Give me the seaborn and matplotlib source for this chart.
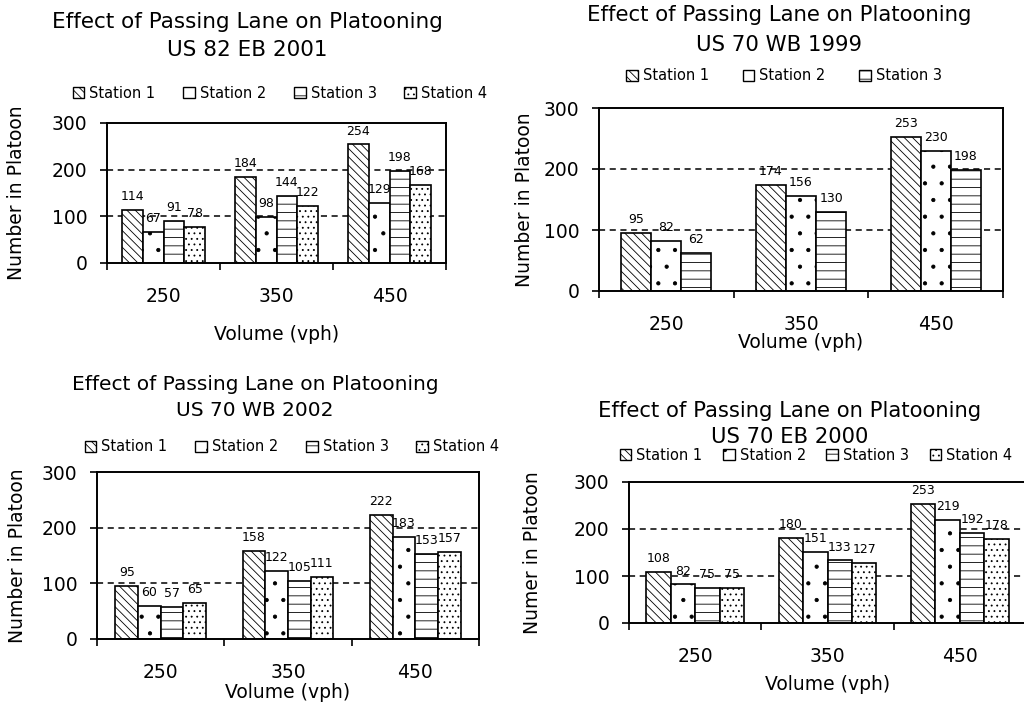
import matplotlib
matplotlib.use("Agg")
import matplotlib.pyplot as plt
from matplotlib.patches import Patch
import seaborn as sns
import pandas as pd

W, H = 1024, 704

volumes = ["250", "350", "450"]
stations4 = ["Station 1", "Station 2", "Station 3", "Station 4"]
stations3 = ["Station 1", "Station 2", "Station 3"]

# US 82 EB 2001
us82_eb_2001 = {
    "Station 1": [114, 184, 254],
    "Station 2": [67, 98, 129],
    "Station 3": [91, 144, 198],
    "Station 4": [78, 122, 168],
}
# US 70 WB 1999
us70_wb_1999 = {
    "Station 1": [95, 174, 253],
    "Station 2": [82, 156, 230],
    "Station 3": [62, 130, 198],
}
# US 70 WB 2002
us70_wb_2002 = {
    "Station 1": [95, 158, 222],
    "Station 2": [60, 122, 183],
    "Station 3": [57, 105, 153],
    "Station 4": [65, 111, 157],
}
# US 70 EB 2000
us70_eb_2000 = {
    "Station 1": [108, 180, 253],
    "Station 2": [82, 151, 219],
    "Station 3": [75, 133, 192],
    "Station 4": [75, 127, 178],
}

hatches = {"Station 1": "\\\\\\\\", "Station 2": ".", "Station 3": "--", "Station 4": "..."}

sns.set_theme(style="white")
plt.rcParams["font.family"] = ["DejaVu Sans"]
plt.rcParams["hatch.linewidth"] = 0.6
plt.rcParams["hatch.color"] = "black"
for key in ("text.color", "axes.labelcolor", "xtick.color", "ytick.color"):
    plt.rcParams[key] = "black"

fig = plt.figure(figsize=(W / 100, H / 100), dpi=100)
fig.patch.set_facecolor("white")


def fx(x):
    return x / W


def fy(y):
    return 1 - y / H


def to_long(data, stations):
    rows = []
    for s in stations:
        for v, n in zip(volumes, data[s]):
            rows.append({"Volume": v, "Station": s, "Count": n})
    return pd.DataFrame(rows)


def panel(data, stations, box, width, subtitle, title_xy, title_size,
          legend_xy, colspace, ylabel, ylabel_x, xlabel_y):
    l, t, r, b = box
    ax = fig.add_axes([fx(l), fy(b), fx(r - l), (b - t) / H])
    df = to_long(data, stations)
    sns.barplot(data=df, x="Volume", y="Count", hue="Station",
                order=volumes, hue_order=stations,
                palette=["white"] * len(stations), edgecolor="black",
                linewidth=1.2, width=width, saturation=1,
                legend=False, ax=ax, errorbar=None)
    for cont, s in zip(ax.containers, stations):
        for bar in cont:
            bar.set_hatch(hatches[s])
        ax.bar_label(cont, labels=[str(v) for v in data[s]],
                     padding=5, fontsize=9, color="black")
    ax.set_ylim(0, 300)
    ax.set_xlim(-0.5, 2.5)
    ax.set_yticks([0, 100, 200, 300])
    ax.set_axisbelow(True)
    for yv in (100, 200):
        ax.axhline(yv, color="black", lw=1.1, ls=(0, (4, 3)), zorder=0.5)
    for sp in ax.spines.values():
        sp.set_visible(True)
        sp.set_color("black")
        sp.set_linewidth(1.4)
    ax.set_xticks([0, 1, 2])
    ax.set_xticks([-0.5, 0.5, 1.5, 2.5], minor=True)
    ax.tick_params(axis="x", which="major", length=0, pad=17, labelsize=13.5)
    ax.tick_params(axis="x", which="minor", length=5, width=1.2,
                   direction="out", bottom=True)
    ax.tick_params(axis="y", length=5, width=1.2, direction="out", left=True,
                   pad=9, labelsize=13.5)
    ax.set_xlabel("Volume (vph)", fontsize=13.5, va="center")
    ax.xaxis.set_label_coords(0.5, -(xlabel_y - b) / (b - t))
    ax.set_ylabel(ylabel, fontsize=13.5, va="center")
    ax.yaxis.set_label_coords((ylabel_x - l) / (r - l), 0.5)

    tx, ty1, ty2 = title_xy
    fig.text(fx(tx), fy(ty1), "Effect of Passing Lane on Platooning",
             ha="center", va="center", fontsize=title_size)
    fig.text(fx(tx), fy(ty2), subtitle, ha="center", va="center",
             fontsize=title_size)

    handles = [Patch(facecolor="white", edgecolor="black", hatch=hatches[s],
                     linewidth=1.0) for s in stations]
    fig.legend(handles, stations, loc="center",
               bbox_to_anchor=(fx(legend_xy[0]), fy(legend_xy[1])),
               ncol=len(stations), frameon=False, fontsize=10.5,
               handlelength=0.8, handleheight=0.8, handletextpad=0.35,
               columnspacing=colspace, borderpad=0)
    return ax


panel(us82_eb_2001, stations4, (107, 123, 446, 263), 0.74, "US 82 EB 2001",
      (247, 22, 50), 15.5, (280, 93), 1.9, "Number in Platoon", 17, 335)
panel(us70_wb_1999, stations3, (599, 108, 1003, 291), 0.67, "US 70 WB 1999",
      (779, 15, 45), 15.3, (784, 76), 2.3, "Number in Platoon", 525, 342)
panel(us70_wb_2002, stations4, (97, 472, 479, 639), 0.71, "US 70 WB 2002",
      (255, 384, 410), 14.5, (292, 447), 1.9, "Number in Platoon", 18, 692)
panel(us70_eb_2000, stations4, (629, 482, 1026, 623), 0.74, "US 70 EB 2000",
      (790, 411, 437), 15.2, (816, 455), 1.4, "Numer in Platoon", 532, 685)

fig.savefig("out.png", dpi=100, facecolor="white")
